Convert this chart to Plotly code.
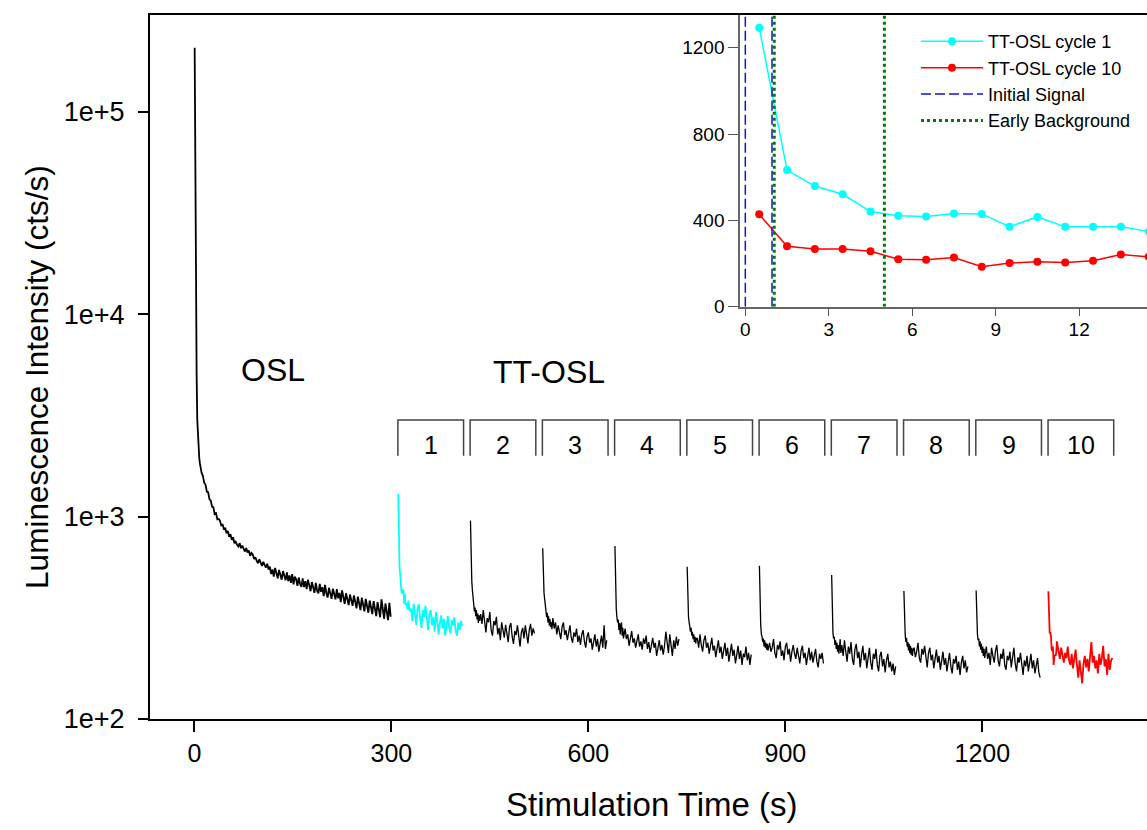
import numpy as np
import plotly.graph_objects as go

# ---------------- data ----------------
# OSL decay: 1-s channels for the first 10 s, then every 2 s
osl_time = list(np.arange(0.5, 10, 1.0)) + list(np.arange(11, 300, 2))
osl_counts = [
    207000, 42000, 12000, 5000, 3000, 2400, 2100, 1950, 1830, 1740,
    1650, 1590, 1470, 1440, 1330, 1320, 1220, 1200, 1120, 1110, 1030, 1040, 970, 975,
    955, 905, 918, 862, 880, 828, 850, 795, 818, 768, 790, 738,
    752, 725, 712, 740, 698, 718, 688, 672, 700, 665, 680, 640, 662,
    650, 618, 630, 605, 588, 615, 596, 570, 598, 575, 560, 585, 548,
    565, 520, 548, 505, 558, 515, 495, 545, 510, 488, 538, 502, 485,
    530, 480, 512, 470, 520, 462, 505, 490, 455, 500, 465, 450,
    495, 448, 480, 438, 488, 445, 428, 475, 440, 420, 470, 430, 418,
    465, 425, 448, 405, 460, 418, 398, 445, 415, 392, 440, 405, 390,
    438, 395, 420, 378, 432, 388, 370, 418, 385, 365, 412, 378,
    362, 408, 372, 352, 402, 365, 345, 398, 358, 340, 392, 352, 335,
    385, 348, 330, 382, 345, 322, 378, 340, 318, 390, 335, 312, 372, 328, 308, 375, 320,
]

# TT-OSL cycles: start time of each 100-s stimulation
cycle_start = [310, 420, 530, 640, 750, 860, 970, 1080, 1190, 1300]
cycle_length = 100
cycle_labels = ["1", "2", "3", "4", "5", "6", "7", "8", "9", "10"]
# channel times within a cycle: 1-s channels for 15 s, then every 2 s
cycle_time = list(np.arange(0.5, 15, 1.0)) + list(np.arange(16, 99, 2))

tt_osl_1 = [1293, 633, 559, 521, 441, 422, 418, 432, 430, 371, 416, 370, 370, 371, 348,
            385, 340, 352, 305, 372, 330, 292, 355, 368, 310, 282, 345, 320, 362, 300, 275,
            330, 345, 290, 318, 270, 338, 305, 262, 298, 325, 280, 312, 258, 300, 322, 285,
            265, 308, 290, 318, 272, 258, 300, 275, 305, 288]
tt_osl_2 = [955, 610, 480, 430, 405, 360, 340, 355, 322, 345, 310, 332, 298, 325, 305,
            330, 295, 345, 290, 268, 315, 300, 338, 275, 258, 305, 290, 320, 262, 282, 245,
            300, 275, 252, 292, 268, 240, 285, 298, 255, 235, 272, 260, 290, 245, 228, 268,
            282, 250, 290, 262, 236, 275, 295, 258, 280, 265]
tt_osl_3 = [697, 480, 420, 390, 365, 340, 318, 335, 300, 322, 290, 312, 285, 300, 278,
            315, 280, 300, 262, 290, 272, 248, 285, 300, 260, 275, 245, 270, 290, 252, 238,
            268, 255, 280, 240, 258, 232, 262, 275, 242, 225, 255, 268, 238, 250, 220, 245,
            262, 228, 248, 215, 240, 258, 225, 290, 222, 245]
tt_osl_4 = [716, 440, 350, 318, 300, 310, 275, 298, 262, 288, 300, 258, 282, 250, 270,
            280, 248, 262, 230, 255, 272, 238, 250, 225, 245, 262, 228, 242, 220, 250, 235,
            258, 222, 240, 212, 235, 252, 225, 238, 205, 228, 245, 218, 232, 208, 230, 270,
            240, 212, 262, 228, 205, 245, 222, 255, 230, 248]
tt_osl_5 = [565, 380, 320, 300, 290, 270, 282, 258, 270, 248, 262, 240, 255, 236, 250,
            250, 225, 262, 232, 215, 245, 258, 225, 238, 210, 235, 252, 218, 230, 202, 225,
            245, 212, 228, 198, 222, 238, 205, 225, 192, 215, 235, 205, 220, 188, 212, 230,
            198, 218, 185, 210, 202, 228, 195, 212, 185, 208]
tt_osl_6 = [571, 360, 290, 262, 255, 240, 250, 228, 245, 225, 238, 220, 235, 218, 230,
            238, 215, 225, 248, 212, 200, 232, 220, 242, 205, 218, 195, 228, 238, 208, 222,
            192, 215, 232, 210, 198, 225, 205, 188, 218, 230, 200, 212, 185, 208, 225, 195,
            215, 190, 205, 222, 192, 180, 210, 198, 212, 188]
tt_osl_7 = [514, 330, 265, 250, 255, 232, 245, 222, 238, 215, 232, 210, 228, 248, 212,
            232, 205, 245, 215, 192, 228, 210, 240, 198, 185, 222, 235, 200, 215, 180, 208,
            230, 195, 212, 178, 202, 225, 190, 175, 210, 198, 222, 185, 172, 205, 215, 182,
            198, 170, 195, 210, 180, 192, 172, 188, 165, 182]
tt_osl_8 = [429, 300, 260, 240, 252, 228, 240, 218, 235, 212, 230, 208, 225, 205, 220,
            225, 202, 215, 238, 200, 190, 222, 208, 230, 195, 180, 212, 225, 195, 208, 178,
            200, 220, 190, 205, 175, 198, 215, 185, 200, 172, 195, 212, 182, 168, 198, 188,
            205, 175, 192, 165, 190, 205, 178, 195, 170, 182]
tt_osl_9 = [431, 310, 262, 245, 250, 228, 242, 220, 235, 212, 228, 205, 222, 200, 218,
            228, 198, 212, 185, 225, 205, 190, 218, 232, 195, 182, 210, 198, 222, 185, 175,
            205, 195, 215, 180, 198, 225, 188, 172, 202, 190, 212, 178, 165, 195, 182, 205,
            172, 190, 210, 178, 195, 168, 185, 200, 170, 160]
tt_osl_10 = [428, 280, 267, 267, 257, 220, 217, 228, 185, 202, 208, 205, 213, 242, 231,
             215, 198, 225, 205, 190, 212, 200, 228, 195, 185, 210, 178, 200, 220, 185, 160,
             195, 175, 150, 188, 205, 180, 198, 172, 215, 240, 190, 205, 178, 195, 168, 210,
             185, 200, 230, 182, 198, 165, 210, 175, 195, 200]
cycles = [tt_osl_1, tt_osl_2, tt_osl_3, tt_osl_4, tt_osl_5,
          tt_osl_6, tt_osl_7, tt_osl_8, tt_osl_9, tt_osl_10]
cycle_colors = ["#00FFFF"] + ["#000000"] * 8 + ["#FF0000"]

# inset integration windows (s)
initial_signal = [0.0, 0.96]
early_background = [1.04, 5.0]
inset_x_range = [-0.19, 14.44]
inset_y_range = [0, 1352]

# bracket boxes (cts/s)
box_bottom, box_top, box_label_y = 2000, 3000, 2270

FONT = "Liberation Sans, Arial, sans-serif"

fig = go.Figure()

# OSL curve
fig.add_trace(go.Scatter(x=osl_time, y=osl_counts, mode="lines",
                         line=dict(color="#000000", width=1.8), showlegend=False,
                         xaxis="x", yaxis="y"))

# TT-OSL cycles
for start, vals, col in zip(cycle_start, cycles, cycle_colors):
    fig.add_trace(go.Scatter(x=[start + t for t in cycle_time], y=vals, mode="lines",
                             line=dict(color=col, width=1.8 if col != "#000000" else 1.3),
                             showlegend=False, xaxis="x", yaxis="y"))

# bracket boxes with labels
for start, lab in zip(cycle_start, cycle_labels):
    fig.add_trace(go.Scatter(x=[start, start, start + cycle_length, start + cycle_length],
                             y=[box_bottom, box_top, box_top, box_bottom], mode="lines",
                             line=dict(color="#444444", width=1.5), showlegend=False,
                             hoverinfo="skip", xaxis="x", yaxis="y"))
    fig.add_annotation(x=start + cycle_length / 2, y=np.log10(box_label_y), xref="x", yref="y",
                       text=lab, showarrow=False, font=dict(family=FONT, size=25, color="#000"))

fig.add_annotation(x=120, y=np.log10(5300), xref="x", yref="y", text="OSL", showarrow=False,
                   font=dict(family=FONT, size=32, color="#000"))
fig.add_annotation(x=540, y=np.log10(5200), xref="x", yref="y", text="TT-OSL", showarrow=False,
                   font=dict(family=FONT, size=32, color="#000"))

# ---------------- inset ----------------
sel = [i for i, t in enumerate(cycle_time) if t <= 16]
fig.add_trace(go.Scatter(x=[cycle_time[i] for i in sel], y=[tt_osl_1[i] for i in sel],
                         mode="lines+markers", name="TT-OSL cycle 1",
                         line=dict(color="#00FFFF", width=1.5), marker=dict(size=8, color="#00FFFF"),
                         xaxis="x2", yaxis="y2"))
fig.add_trace(go.Scatter(x=[cycle_time[i] for i in sel], y=[tt_osl_10[i] for i in sel],
                         mode="lines+markers", name="TT-OSL cycle 10",
                         line=dict(color="#FF0000", width=1.5), marker=dict(size=8, color="#FF0000"),
                         xaxis="x2", yaxis="y2"))
fig.add_trace(go.Scatter(x=[initial_signal[0], initial_signal[0], None, initial_signal[1], initial_signal[1]],
                         y=[inset_y_range[0], inset_y_range[1], None, inset_y_range[0], inset_y_range[1]],
                         mode="lines", name="Initial Signal",
                         line=dict(color="#1010E0", width=1.5, dash="10px,4px"),
                         xaxis="x2", yaxis="y2"))
fig.add_trace(go.Scatter(x=[early_background[0], early_background[0], None, early_background[1], early_background[1]],
                         y=[inset_y_range[0], inset_y_range[1], None, inset_y_range[0], inset_y_range[1]],
                         mode="lines", name="Early Background",
                         line=dict(color="#007A00", width=3, dash="dot"),
                         xaxis="x2", yaxis="y2"))

fig.update_layout(
    width=1147, height=830,
    margin=dict(l=150, r=0, t=15, b=111),
    paper_bgcolor="white", plot_bgcolor="rgba(0,0,0,0)",
    font=dict(family=FONT, color="#000"),
    xaxis=dict(domain=[0, 1], range=[-67.5, 1450.7], showgrid=False, zeroline=False,
               showline=True, linecolor="#000", linewidth=2, mirror=True,
               ticks="outside", ticklen=11, tickwidth=1.5, tickcolor="#000",
               tickvals=[0, 300, 600, 900, 1200],
               tickfont=dict(family=FONT, size=25)),
    yaxis=dict(domain=[0, 1], type="log", range=[2, 5.478], showgrid=False, zeroline=False,
               showline=True, linecolor="#000", linewidth=2,
               ticks="outside", ticklen=10, tickwidth=1.5, tickcolor="#000",
               tickvals=[100, 1000, 10000, 100000], ticktext=["1e+2", "1e+3", "1e+4", "1e+5"],
               tickfont=dict(family=FONT, size=27), ticklabelstandoff=8),
    xaxis2=dict(domain=[0.5918, 1], anchor="y2", range=inset_x_range, showgrid=False,
                zeroline=False, showline=True, linecolor="#666", linewidth=1.5,
                ticks="outside", ticklen=8, tickwidth=1.2, tickcolor="#555",
                tickvals=[0, 3, 6, 9, 12], tickfont=dict(family=FONT, size=19),
                ticklabelstandoff=-3),
    yaxis2=dict(domain=[0.5857, 1], anchor="x2", range=inset_y_range, showgrid=False,
                zeroline=False, showline=True, linecolor="#666", linewidth=1.5,
                ticks="outside", ticklen=10, tickwidth=1.2, tickcolor="#555",
                tickvals=[0, 400, 800, 1200], tickfont=dict(family=FONT, size=19)),
    legend=dict(x=0.7683, y=0.9886, xanchor="left", yanchor="top", bgcolor="rgba(0,0,0,0)",
                font=dict(family=FONT, size=18), itemwidth=62, tracegroupgap=0),
    showlegend=True,
)

fig.add_annotation(xref="paper", yref="paper", x=-0.1133, y=0.486, text="Luminescence Intensity (cts/s)",
                   textangle=-90, showarrow=False, xanchor="center", yanchor="middle",
                   font=dict(family=FONT, size=31.5, color="#000"))
fig.add_annotation(xref="paper", yref="paper", x=0.5035, y=-0.122, text="Stimulation Time (s)",
                   showarrow=False, xanchor="center", yanchor="middle",
                   font=dict(family=FONT, size=33, color="#000"))

fig.write_html("out.html")
